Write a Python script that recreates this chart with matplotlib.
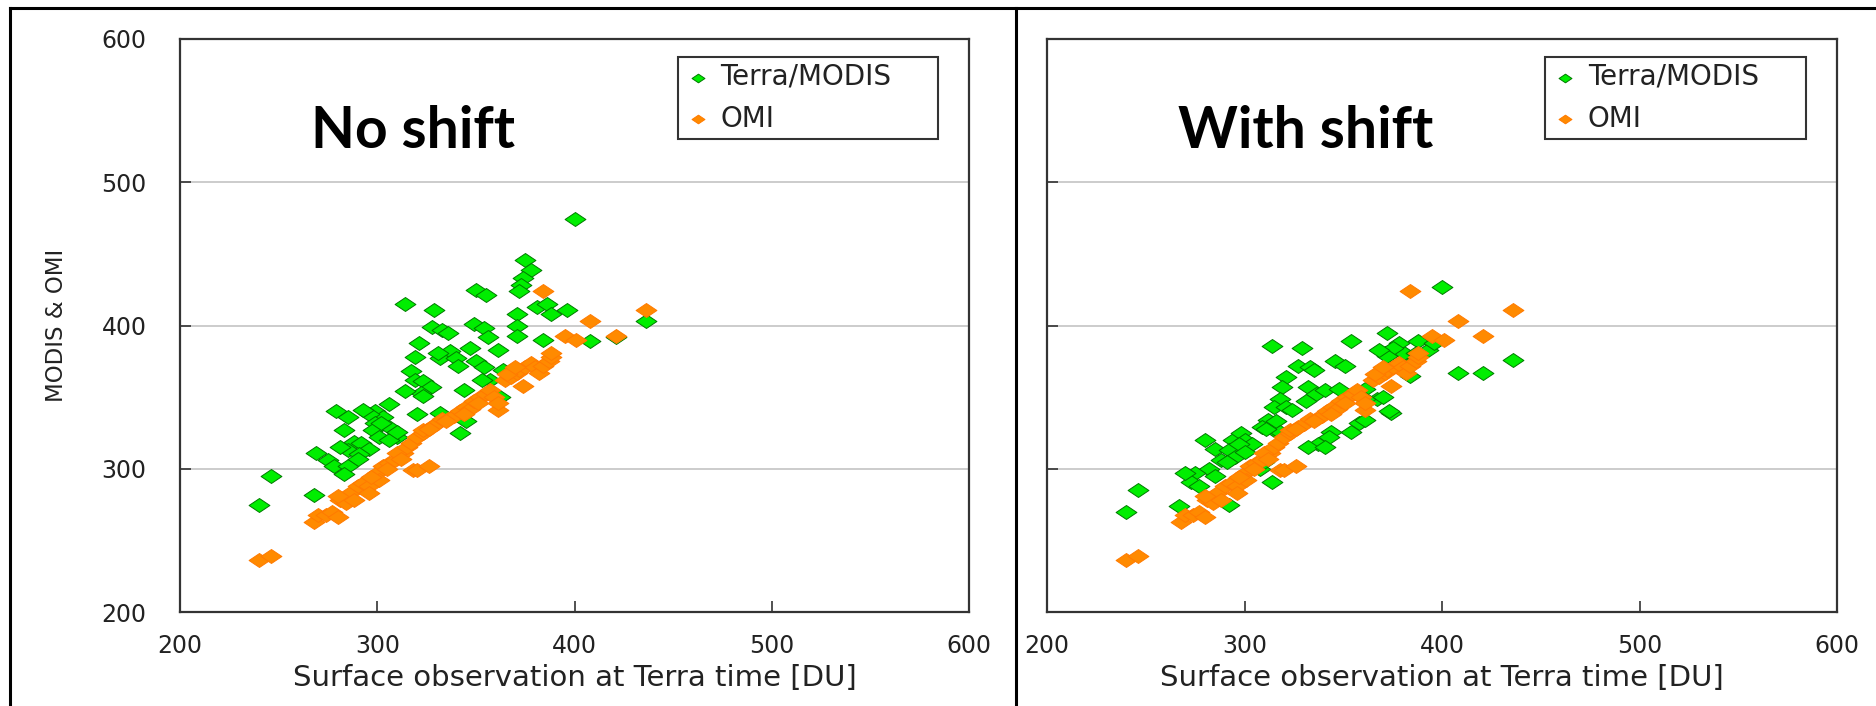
import matplotlib.pyplot as plt
from matplotlib.path import Path
from matplotlib.lines import Line2D

# Terra/MODIS, no shift (left panel)
modis_x_noshift = [400, 375, 378, 374, 373, 372, 350, 355, 314, 329, 381, 386, 388, 396, 371,
                   436, 328, 333, 336, 349, 354, 356, 371, 371, 384, 408, 421, 321, 319, 337,
                   332, 340, 331, 347, 350, 354, 361, 341, 317, 319, 323, 327, 322, 314, 344,
                   357, 364, 306, 299, 303, 296, 293, 279, 285, 283, 299, 298, 301, 310, 320,
                   332, 288, 292, 296, 285, 291, 281, 275, 278, 285, 283, 290, 306, 342, 345,
                   362, 246, 240, 268, 269, 323, 353, 306, 302, 310]
modis_y_noshift = [474, 446, 439, 433, 428, 424, 425, 421, 415, 411, 413, 415, 408, 411, 408,
                   403, 399, 397, 395, 401, 398, 392, 400, 393, 390, 389, 392, 388, 378, 382,
                   377, 377, 381, 384, 375, 371, 383, 372, 368, 362, 361, 357, 353, 354, 355,
                   362, 369, 345, 340, 336, 338, 341, 340, 336, 327, 332, 327, 322, 322, 338,
                   339, 319, 318, 314, 313, 310, 315, 306, 302, 302, 296, 307, 320, 325, 333,
                   350, 295, 275, 282, 311, 351, 362, 329, 332, 326]

# Terra/MODIS, with shift (right panel)
modis_x_shift = [400, 436, 408, 421, 314, 329, 354, 372, 371, 376, 381, 388, 393, 386, 396,
                 378, 375, 372, 368, 384, 374, 327, 333, 335, 346, 351, 321, 319, 332, 336,
                 341, 348, 318, 315, 321, 324, 331, 361, 367, 373, 370, 312, 309, 315, 358,
                 361, 354, 344, 343, 337, 332, 341, 280, 285, 294, 298, 300, 304, 292, 297,
                 295, 288, 282, 275, 273, 277, 285, 270, 308, 314, 292, 246, 240, 267, 310,
                 316, 318, 311, 361, 387, 291, 300]
modis_y_shift = [427, 376, 367, 367, 386, 384, 389, 395, 381, 384, 381, 389, 383, 375, 388,
                 388, 384, 379, 383, 365, 339, 372, 371, 369, 375, 372, 364, 357, 357, 352,
                 355, 356, 349, 343, 343, 341, 347, 356, 349, 340, 350, 334, 329, 327, 332,
                 334, 326, 326, 322, 317, 315, 315, 320, 314, 320, 325, 320, 317, 313, 317,
                 308, 306, 300, 297, 291, 288, 295, 297, 300, 291, 275, 285, 270, 274, 305,
                 333, 326, 328, 349, 381, 305, 312]

# OMI (same in both panels)
omi_x = [240, 246, 268, 270, 274, 277, 280, 281, 284, 286, 288, 290, 293, 296, 296,
         280, 300, 301, 303, 306, 309, 313, 310, 315, 318, 320, 326, 317, 320, 323,
         323, 327, 330, 333, 336, 339, 342, 345, 347, 349, 352, 355, 357, 359, 361,
         361, 365, 368, 371, 372, 374, 375, 378, 380, 382, 384, 387, 388, 388, 384,
         395, 401, 408, 421, 436, 297, 305, 312, 326, 335, 344, 351, 366, 370]
omi_y = [236, 239, 263, 268, 268, 270, 266, 278, 276, 283, 278, 288, 290, 288, 283,
         281, 297, 292, 302, 304, 306, 311, 311, 315, 299, 299, 302, 318, 322, 325,
         327, 329, 331, 335, 335, 337, 340, 343, 342, 347, 350, 352, 355, 350, 341,
         346, 362, 364, 367, 369, 358, 371, 374, 371, 367, 372, 375, 378, 381, 424,
         393, 390, 403, 393, 411, 294, 300, 307, 328, 333, 338, 346, 366, 371]

ticks = [200, 300, 400, 500, 600]
panel_titles = ["No shift", "With shift"]
legend_labels = ["Terra/MODIS", "OMI"]
x_label = "Surface observation at Terra time [DU]"
y_label = "MODIS & OMI"

green = "#00ee00"
green_edge = "#007a00"
orange = "#ff8a00"
orange_edge = "#ff7a00"

# flattened diamond, like the original chart
diamond = Path([(-1, 0), (0, 0.67), (1, 0), (0, -0.67), (-1, 0)],
               [Path.MOVETO, Path.LINETO, Path.LINETO, Path.LINETO, Path.CLOSEPOLY])

fig = plt.figure(figsize=(18.76, 7.06), dpi=100)
W, H = 1876.0, 706.0

axes_left = [180, 1047]
axes_width = [789, 790]
title_x = [0.295, 0.328]
modis_sets = [(modis_x_noshift, modis_y_noshift), (modis_x_shift, modis_y_shift)]

for i in range(2):
    ax = fig.add_axes([axes_left[i] / W, (H - 612) / H, axes_width[i] / W, 573 / H])
    mx, my = modis_sets[i]
    ax.scatter(mx, my, marker=diamond, s=15 ** 2, c=green, edgecolors=green_edge,
               linewidths=0.7, label=legend_labels[0], zorder=3)
    ax.scatter(omi_x, omi_y, marker=diamond, s=15 ** 2, c=orange, edgecolors=orange_edge,
               linewidths=0.7, label=legend_labels[1], zorder=4)

    ax.set_xlim(200, 600)
    ax.set_ylim(200, 600)
    ax.set_xticks(ticks)
    ax.set_yticks(ticks)
    ax.yaxis.grid(True, color="#c8c8c8", linewidth=1.3)
    ax.set_axisbelow(True)
    for sp in ax.spines.values():
        sp.set_color("#333333")
        sp.set_linewidth(1.6)
    ax.tick_params(direction="in", length=8, width=1.2, color="#333333",
                   labelsize=17, labelcolor="#222222", pad=16)
    ax.tick_params(axis="y", pad=24)
    if i == 1:
        ax.tick_params(axis="y", labelleft=False)
    else:
        ax.set_ylabel(y_label, fontsize=16.5, color="#222222")
        ax.yaxis.set_label_coords(-0.142, 0.5)
    ax.set_xlabel(x_label, fontsize=21, color="#222222", labelpad=4)

    ax.text(title_x[i], 0.81, panel_titles[i], transform=ax.transAxes,
            ha="center", va="baseline", fontsize=41, fontweight="bold",
            family=["Lato", "DejaVu Sans"], color="black")

    leg = ax.legend(loc="upper left", bbox_to_anchor=(0.631, 0.829, 0.330, 0.140),
                    mode="expand", borderaxespad=0,
                    fontsize=20, markerscale=0.62, frameon=True, fancybox=False,
                    handletextpad=0.3, handlelength=1.0, labelspacing=0.5,
                    borderpad=0.22, edgecolor="black")
    leg.get_frame().set_linewidth(1.5)
    for t in leg.get_texts():
        t.set_color("#222222")

# outer frame lines
fig.add_artist(Line2D([10 / W, 10 / W], [0, 1 - 7.5 / H], color="black", linewidth=2.2))
fig.add_artist(Line2D([10 / W, 1], [1 - 7.5 / H, 1 - 7.5 / H], color="black", linewidth=2.2))
fig.add_artist(Line2D([1016 / W, 1016 / W], [0, 1 - 7.5 / H], color="black", linewidth=2.2))

fig.savefig("out.png", dpi=100)
